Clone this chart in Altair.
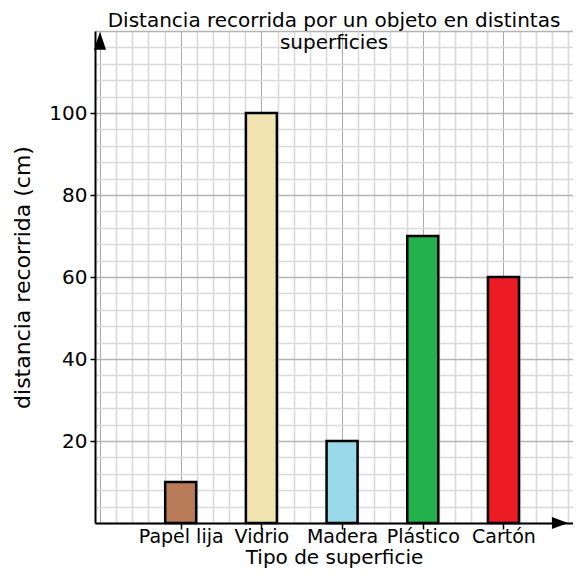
import altair as alt
import pandas as pd

# ---- data ----
categories = ["Papel lija", "Vidrio", "Madera", "Plástico", "Cartón"]
distances = [10, 100, 20, 70, 60]
colors = ["#b97a57", "#efe4b0", "#99d9ea", "#22b14c", "#ed1c24"]
y_label_values = [20, 40, 60, 80, 100]
title_lines = ["Distancia recorrida por un objeto en distintas", "superficies"]
x_title = "Tipo de superficie"
y_title = "distancia recorrida (cm)"

# grid paper: 5 minor cells per category step on x, 4 units per minor cell on y
minor_per_cat = 5
x_max = 29
y_max = 120
y_minor = 4

FONT = "DejaVu Sans"

bars = pd.DataFrame({
    "pos": [(i + 1) * minor_per_cat for i in range(len(categories))],
    "dist": distances,
    "cat": categories,
    "color": colors,
})

arrow_up = pd.DataFrame({"pos": [0], "dist": [117.6]})
arrow_right = pd.DataFrame({"pos": [28.5], "dist": [0]})

label_arr = [""] * (x_max + 1)
for i, c in enumerate(categories):
    label_arr[(i + 1) * minor_per_cat] = c
x_label_expr = "[" + ", ".join("'" + s + "'" for s in label_arr) + "][datum.value]"
y_label_expr = "indexof([" + ",".join(str(v) for v in y_label_values) + "], datum.value) >= 0 ? datum.label : ''"

x_scale = alt.Scale(domain=[0, x_max], nice=False, zero=False)
y_scale = alt.Scale(domain=[0, y_max], nice=False)

x_axis = alt.Axis(
    values=list(range(0, x_max + 1)),
    labelExpr=x_label_expr,
    title=x_title,
    titleFont=FONT, titleFontSize=20, titleFontWeight="normal", titleColor="black",
    titlePadding=1,
    labelFont=FONT, labelFontSize=19, labelColor="black", labelPadding=-2,
    labelOverlap=False, labelFlush=False, labelBound=False,
    domainColor="black", domainWidth=2,
    tickSize=6, tickWidth=1.5,
    tickColor={"condition": {"test": f"datum.value % {minor_per_cat} === 0 && datum.value > 0", "value": "black"}, "value": "transparent"},
    grid=True,
    gridColor={"condition": {"test": f"datum.value % {minor_per_cat} === 0", "value": "#a9a9a9"}, "value": "#dadada"},
    gridWidth={"condition": {"test": f"datum.value % {minor_per_cat} === 0", "value": 1}, "value": 1.6},
)

y_axis = alt.Axis(
    values=list(range(0, y_max + 1, y_minor)),
    labelExpr=y_label_expr,
    title=y_title,
    titleFont=FONT, titleFontSize=22, titleFontWeight="normal", titleColor="black",
    titlePadding=14,
    labelFont=FONT, labelFontSize=20, labelColor="black", labelPadding=3,
    labelOverlap=False, labelFlush=False, labelBound=False,
    domainColor="black", domainWidth=2,
    tickSize=5, tickWidth=1.5,
    tickColor={"condition": {"test": "indexof([" + ",".join(str(v) for v in y_label_values) + "], datum.value) >= 0", "value": "black"}, "value": "transparent"},
    grid=True,
    gridColor={"condition": {"test": "datum.value % 20 === 0", "value": "#b4b4b4"}, "value": "#dadada"},
    gridWidth={"condition": {"test": "datum.value % 20 === 0", "value": 1.4}, "value": 1.6},
)

x_enc = alt.X("pos:Q", scale=x_scale, axis=x_axis)
y_enc = alt.Y("dist:Q", scale=y_scale, axis=y_axis)

bar_layer = alt.Chart(bars).mark_bar(size=31, stroke="black", strokeWidth=2.5).encode(
    x=x_enc,
    y=y_enc,
    color=alt.Color("color:N", scale=None),
    tooltip=["cat:N", "dist:Q"],
)

up_layer = alt.Chart(arrow_up).mark_point(
    shape="M-0.667,1L0,-1L0.667,1Z", size=324, filled=True, color="black", opacity=1, strokeWidth=0
).encode(x=x_enc, y=y_enc)

right_layer = alt.Chart(arrow_right).mark_point(
    shape="M-1,-0.75L1,0L-1,0.75Z", size=256, filled=True, color="black", opacity=1, strokeWidth=0
).encode(x=x_enc, y=y_enc)

chart = alt.layer(bar_layer, up_layer, right_layer).properties(
    width=478,
    height=492,
    autosize=alt.AutoSizeParams(type="none"),
    padding={"left": 87, "top": 23, "right": 0, "bottom": 46},
    background="white",
    title=alt.TitleParams(
        text=title_lines, font=FONT, fontSize=20, fontWeight="normal", color="black",
        lineHeight=22, anchor="middle", offset=-32,
    ),
).configure_view(stroke=None, clip=False)

chart.save("out.html", embed_options={"renderer": "svg", "actions": False})
